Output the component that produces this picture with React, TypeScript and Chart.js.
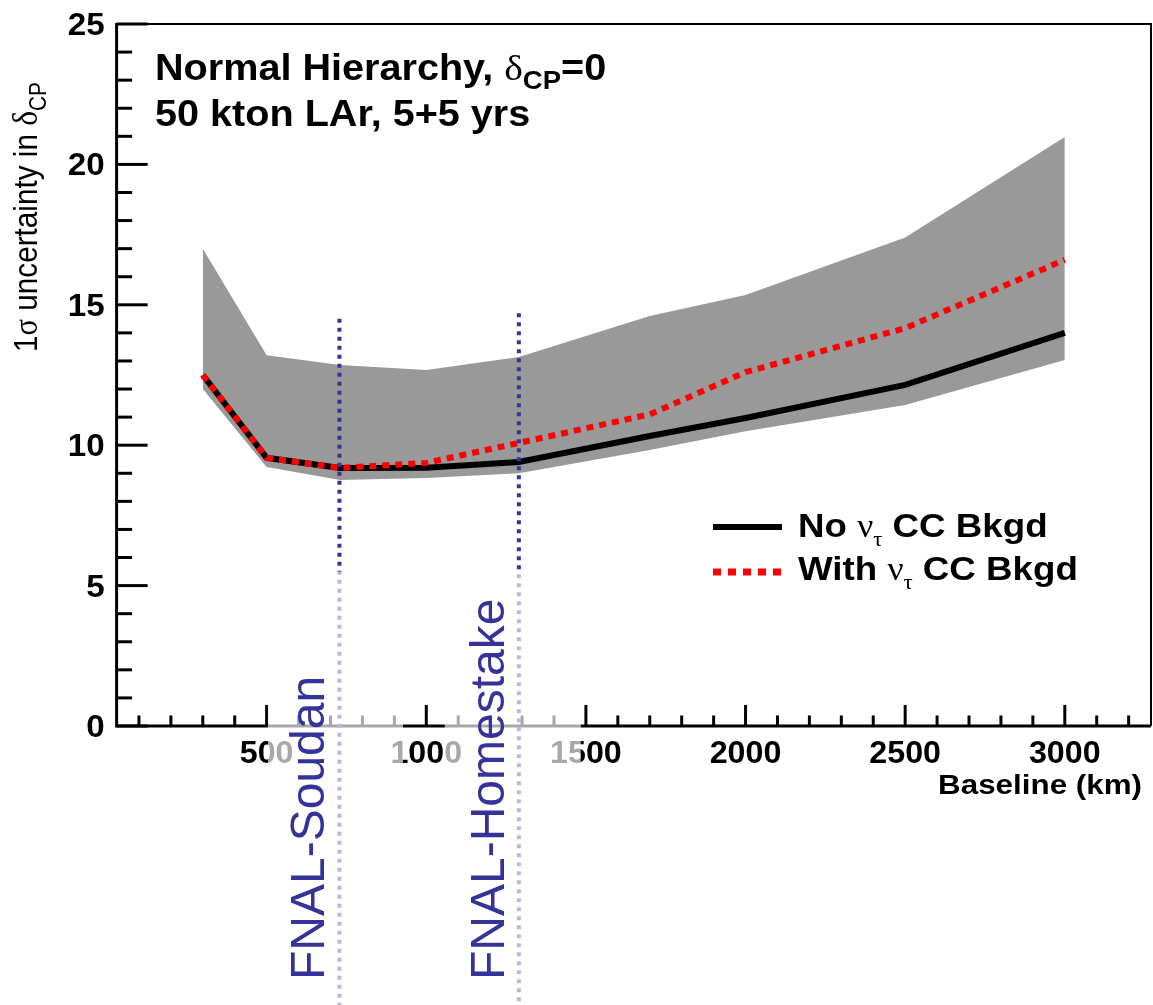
import React, { useEffect, useRef } from 'react';
import { Chart, registerables } from 'chart.js';

Chart.register(...registerables);

// ---- data ----
const baselineKm = [300, 500, 730, 1000, 1290, 1700, 2000, 2500, 3000];
const bandUpper = [17.0, 13.2, 12.86, 12.68, 13.14, 14.6, 15.35, 17.4, 20.98];
const bandLower = [12.0, 9.22, 8.76, 8.83, 9.0, 9.83, 10.5, 11.43, 13.03];
const noTauBkgd = [12.5, 9.55, 9.19, 9.2, 9.4, 10.33, 10.97, 12.15, 14.0];
const withTauBkgd = [12.5, 9.55, 9.19, 9.37, 10.08, 11.1, 12.6, 14.17, 16.6];

const xMajorTicks = [500, 1000, 1500, 2000, 2500, 3000];
const yMajorTicks = [0, 5, 10, 15, 20, 25];
const xRange = [30, 3270];
const yRange = [0, 25];

const experimentKm = [728, 1290];
const experimentLineTop = [14.5, 14.7];
const experimentNames = ['FNAL-Soudan', 'FNAL-Homestake'];

const legendLabels = ['No', 'With'];

// ---- styling ----
const SANS = '"Liberation Sans", Arial, Helvetica, sans-serif';
const SERIF = '"Liberation Serif", "DejaVu Serif", serif';
const BLUE = '#333399';
const BAND = '#999999';
const RED = '#ff0000';

type Run = { t: string; font: string; dy?: number };

function runsWidth(ctx: CanvasRenderingContext2D, runs: Run[]) {
  let w = 0;
  for (const r of runs) {
    ctx.font = r.font;
    w += ctx.measureText(r.t).width;
  }
  return w;
}

function drawRuns(
  ctx: CanvasRenderingContext2D,
  x: number,
  y: number,
  runs: Run[],
  color: string,
  sx = 1,
  rotate = 0
) {
  ctx.save();
  ctx.translate(x, y);
  if (rotate) ctx.rotate(rotate);
  ctx.scale(sx, 1);
  ctx.fillStyle = color;
  ctx.textBaseline = 'alphabetic';
  ctx.textAlign = 'left';
  let cx = 0;
  for (const r of runs) {
    ctx.font = r.font;
    ctx.fillText(r.t, cx, r.dy || 0);
    cx += ctx.measureText(r.t).width;
  }
  ctx.restore();
}

const rootStylePlugin = {
  id: 'rootStyle',
  afterDraw(chart: any) {
    const ctx: CanvasRenderingContext2D = chart.ctx;
    const a = chart.chartArea;
    const xs = chart.scales.x;
    const ys = chart.scales.y;
    const W = a.right - a.left;
    const H = a.bottom - a.top;
    const canvasH = chart.height;

    ctx.save();
    // ---- frame ----
    ctx.strokeStyle = '#000';
    ctx.setLineDash([]);
    ctx.lineWidth = 2;
    ctx.beginPath();
    ctx.moveTo(a.left, a.top);
    ctx.lineTo(a.right, a.top);
    ctx.lineTo(a.right, a.bottom);
    ctx.stroke();
    ctx.lineWidth = 3;
    ctx.beginPath();
    ctx.moveTo(a.left, a.top - 1);
    ctx.lineTo(a.left, a.bottom);
    ctx.lineTo(a.right, a.bottom);
    ctx.stroke();

    // ---- y ticks (inward) ----
    ctx.lineWidth = 3;
    for (let v = yRange[0]; v <= yRange[1]; v += 1) {
      const py = ys.getPixelForValue(v);
      const major = yMajorTicks.includes(v);
      const len = major ? 0.03 * W : 0.015 * W;
      ctx.beginPath();
      ctx.moveTo(a.left, py);
      ctx.lineTo(a.left + len, py);
      ctx.stroke();
    }
    // ---- x ticks (inward) ----
    for (let v = 100; v <= xRange[1]; v += 100) {
      if (v < xRange[0]) continue;
      const px = xs.getPixelForValue(v);
      const major = xMajorTicks.includes(v);
      const len = major ? 0.03 * H : 0.015 * H;
      ctx.beginPath();
      ctx.moveTo(px, a.bottom);
      ctx.lineTo(px, a.bottom - len);
      ctx.stroke();
    }

    // ---- tick labels ----
    const tickFont = `bold 31px ${SANS}`;
    ctx.fillStyle = '#000';
    ctx.font = tickFont;
    for (const v of yMajorTicks) {
      const py = ys.getPixelForValue(v);
      ctx.save();
      ctx.translate(a.left - 12, py + 11);
      ctx.scale(1.07, 1);
      ctx.textAlign = 'right';
      ctx.textBaseline = 'alphabetic';
      ctx.fillText(String(v), 0, 0);
      ctx.restore();
    }
    for (const v of xMajorTicks) {
      const px = xs.getPixelForValue(v);
      ctx.save();
      ctx.translate(px, a.bottom + 37);
      ctx.scale(1.04, 1);
      ctx.textAlign = 'center';
      ctx.textBaseline = 'alphabetic';
      ctx.fillText(String(v), 0, 0);
      ctx.restore();
    }

    // ---- axis titles ----
    const xTitle: Run[] = [{ t: 'Baseline (km)', font: `bold 28px ${SANS}` }];
    const xtw = runsWidth(ctx, xTitle) * 1.12;
    drawRuns(ctx, 1142 - xtw, a.bottom + 68, xTitle, '#000', 1.12);

    const yTitle: Run[] = [
      { t: '1', font: `33px ${SANS}` },
      { t: 'σ', font: `34px ${SERIF}` },
      { t: ' uncertainty in ', font: `33px ${SANS}` },
      { t: 'δ', font: `35px ${SERIF}` },
      { t: 'CP', font: `23px ${SANS}`, dy: 9 },
    ];
    drawRuns(ctx, 37, 352, yTitle, '#000', 0.9, -Math.PI / 2);

    // ---- header text ----
    const hdr1: Run[] = [
      { t: 'Normal Hierarchy, ', font: `bold 36px ${SANS}` },
      { t: 'δ', font: `36px ${SERIF}` },
      { t: 'CP', font: `bold 25px ${SANS}`, dy: 9 },
      { t: '=0', font: `bold 36px ${SANS}` },
    ];
    drawRuns(ctx, 155, 80, hdr1, '#000', 1.1);
    const hdr2: Run[] = [{ t: '50 kton LAr, 5+5 yrs', font: `bold 36px ${SANS}` }];
    drawRuns(ctx, 155, 126, hdr2, '#000', 1.1);

    // ---- legend ----
    const legY = [527, 572];
    const legTextY = [537, 580];
    ctx.lineCap = 'butt';
    ctx.strokeStyle = '#000';
    ctx.lineWidth = 6;
    ctx.setLineDash([]);
    ctx.beginPath();
    ctx.moveTo(713, legY[0]);
    ctx.lineTo(782, legY[0]);
    ctx.stroke();
    ctx.strokeStyle = RED;
    ctx.lineWidth = 7;
    ctx.setLineDash([8, 7]);
    ctx.beginPath();
    ctx.moveTo(713, legY[1]);
    ctx.lineTo(784, legY[1]);
    ctx.stroke();
    ctx.setLineDash([]);
    legendLabels.forEach((lab, i) => {
      const runs: Run[] = [
        { t: lab + ' ', font: `bold 34px ${SANS}` },
        { t: 'ν', font: `33px ${SERIF}` },
        { t: 'τ', font: `21px ${SERIF}`, dy: 9 },
        { t: ' CC Bkgd', font: `bold 34px ${SANS}` },
      ];
      drawRuns(ctx, 798, legTextY[i], runs, '#000', 1.08);
    });

    // ---- experiment marker lines ----
    ctx.strokeStyle = BLUE;
    ctx.lineWidth = 4;
    ctx.setLineDash([4, 5]);
    experimentKm.forEach((km, i) => {
      const px = xs.getPixelForValue(km);
      ctx.beginPath();
      ctx.moveTo(px, ys.getPixelForValue(experimentLineTop[i]));
      ctx.lineTo(px, canvasH);
      ctx.stroke();
    });
    ctx.setLineDash([]);

    // ---- translucent label boxes ----
    const boxTop = ys.getPixelForValue(5.5);
    const boxes = [
      [xs.getPixelForValue(504), xs.getPixelForValue(927)],
      [xs.getPixelForValue(1058), xs.getPixelForValue(1484)],
    ];
    ctx.fillStyle = 'rgba(255,255,255,0.66)';
    for (const [l, r] of boxes) {
      ctx.fillRect(l, boxTop, r - l, canvasH - boxTop);
    }

    // ---- experiment labels ----
    experimentKm.forEach((km, i) => {
      const px = xs.getPixelForValue(km);
      drawRuns(
        ctx,
        px - 15,
        980,
        [{ t: experimentNames[i], font: `48px ${SANS}` }],
        BLUE,
        1,
        -Math.PI / 2
      );
    });

    ctx.restore();
  },
};

export default function App() {
  const ref = useRef<HTMLCanvasElement>(null);

  useEffect(() => {
    document.body.style.margin = '0';
    document.body.style.overflow = 'hidden';
    const canvas = ref.current;
    if (!canvas) return;

    const pts = (ys: number[]) => baselineKm.map((x, i) => ({ x, y: ys[i] }));

    const chart = new Chart(canvas, {
      type: 'line',
      data: {
        datasets: [
          {
            label: 'With nu_tau CC Bkgd',
            data: pts(withTauBkgd),
            borderColor: RED,
            borderWidth: 6,
            borderDash: [7, 6],
            borderCapStyle: 'butt',
            pointRadius: 0,
            fill: false,
            tension: 0,
          },
          {
            label: 'No nu_tau CC Bkgd',
            data: pts(noTauBkgd),
            borderColor: '#000000',
            borderWidth: 6,
            pointRadius: 0,
            fill: false,
            tension: 0,
          },
          {
            label: 'band upper',
            data: pts(bandUpper),
            borderColor: 'rgba(0,0,0,0)',
            borderWidth: 0,
            backgroundColor: BAND,
            pointRadius: 0,
            fill: '+1',
            tension: 0,
          },
          {
            label: 'band lower',
            data: pts(bandLower),
            borderColor: 'rgba(0,0,0,0)',
            borderWidth: 0,
            pointRadius: 0,
            fill: false,
            tension: 0,
          },
        ],
      },
      options: {
        responsive: false,
        animation: false,
        devicePixelRatio: 1,
        events: [],
        layout: { padding: { left: 116.6, right: 2, top: 24, bottom: 279 } },
        scales: {
          x: { type: 'linear', min: xRange[0], max: xRange[1], display: false },
          y: { type: 'linear', min: yRange[0], max: yRange[1], display: false },
        },
        plugins: {
          legend: { display: false },
          tooltip: { enabled: false },
          title: { display: false },
        },
      } as any,
      plugins: [rootStylePlugin as any],
    });

    return () => chart.destroy();
  }, []);

  return <canvas ref={ref} width={1153} height={1005} style={{ display: 'block' }} />;
}
